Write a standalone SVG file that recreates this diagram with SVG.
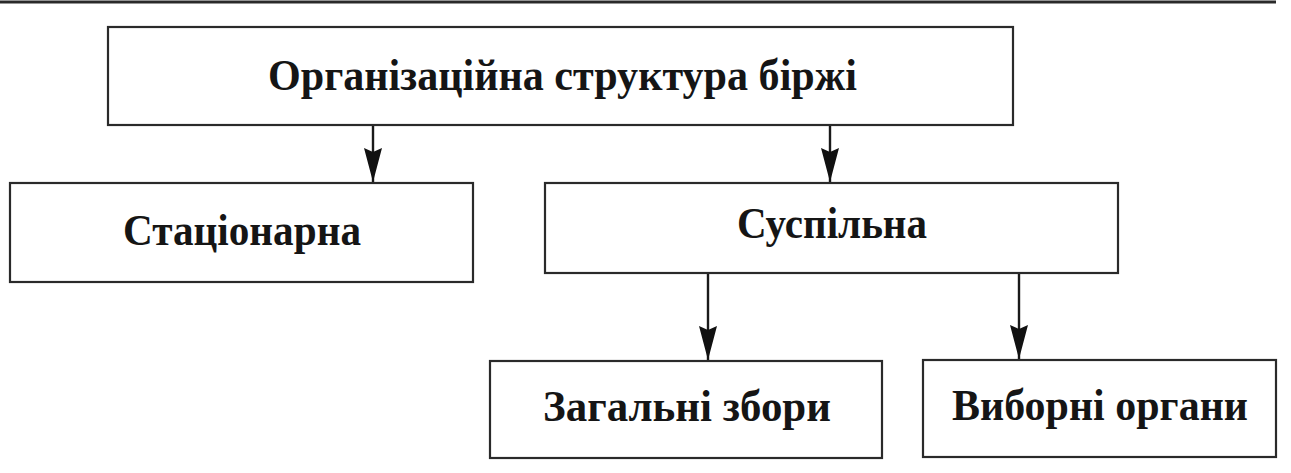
<svg xmlns="http://www.w3.org/2000/svg" width="1291" height="473" viewBox="0 0 1291 473">
<style>
.box{fill:#fff;stroke:#2a2a2a;stroke-width:2.2}
.lbl{font-family:"Liberation Serif","Times New Roman",serif;font-weight:bold;font-size:45px;fill:#151515}
.conn{stroke:#1a1a1a;stroke-width:2.4;fill:none}
</style>
<defs>
<marker id="ah" markerUnits="userSpaceOnUse" markerWidth="36" markerHeight="20" refX="34" refY="10" orient="auto" viewBox="0 0 36 20">
<path d="M0,1 L34,10 L0,19 L4,10 Z" fill="#111"/>
</marker>
</defs>
<rect width="1291" height="473" fill="#fff"/>
<line x1="0" y1="2" x2="1276" y2="2" stroke="#2a2a2a" stroke-width="3"/>
<g id="node-root">
<rect class="box" x="108" y="27" width="905" height="98"/>
<text class="lbl" x="268" y="90" textLength="589" lengthAdjust="spacingAndGlyphs">Організаційна структура біржі</text>
</g>
<g id="node-stationary">
<rect class="box" x="10" y="183" width="463" height="99"/>
<text class="lbl" x="123" y="245" textLength="238" lengthAdjust="spacingAndGlyphs">Стаціонарна</text>
</g>
<g id="node-public">
<rect class="box" x="545" y="183" width="573" height="90"/>
<text class="lbl" x="737" y="238" textLength="190" lengthAdjust="spacingAndGlyphs">Суспільна</text>
</g>
<g id="node-general">
<rect class="box" x="490" y="361" width="392" height="97"/>
<text class="lbl" x="543" y="421" textLength="288" lengthAdjust="spacingAndGlyphs">Загальні збори</text>
</g>
<g id="node-elected">
<rect class="box" x="923" y="360" width="353" height="97"/>
<text class="lbl" x="952" y="420" textLength="296" lengthAdjust="spacingAndGlyphs">Виборні органи</text>
</g>
<g id="connectors">
<path class="conn" d="M373,126 V182" marker-end="url(#ah)"/>
<path class="conn" d="M830,126 V182" marker-end="url(#ah)"/>
<path class="conn" d="M708,274 V360" marker-end="url(#ah)"/>
<path class="conn" d="M1019,274 V359" marker-end="url(#ah)"/>
</g>
</svg>
